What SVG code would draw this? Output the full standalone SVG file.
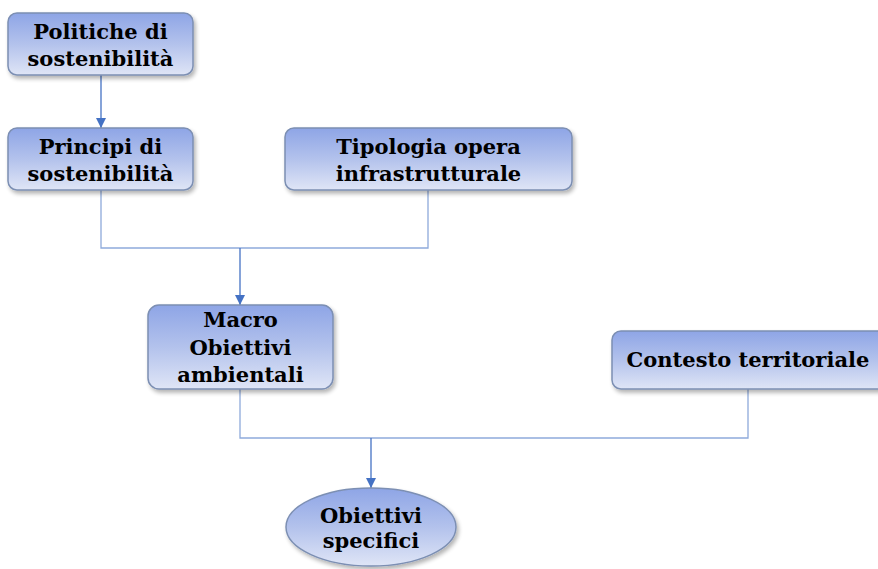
<svg xmlns="http://www.w3.org/2000/svg" width="878" height="569" viewBox="0 0 878 569">
<defs>
<linearGradient id="g" x1="0" y1="0" x2="0" y2="1">
<stop offset="0" stop-color="#8ea5e6"/>
<stop offset="0.5" stop-color="#b3c2ec"/>
<stop offset="1" stop-color="#dfe5f6"/>
</linearGradient>
<filter id="sh" x="-10%" y="-10%" width="125%" height="135%">
<feGaussianBlur in="SourceAlpha" stdDeviation="2"/>
<feOffset dx="2" dy="3"/>
<feComponentTransfer><feFuncA type="linear" slope="0.3"/></feComponentTransfer>
<feMerge><feMergeNode/><feMergeNode in="SourceGraphic"/></feMerge>
</filter>
<marker id="arr" viewBox="0 0 10 10" refX="10" refY="5" markerWidth="10" markerHeight="10" markerUnits="userSpaceOnUse" orient="auto">
<path d="M0,0 L10,5 L0,10 z" fill="#4472c4"/>
</marker>
</defs>
<style>
.box{fill:url(#g);stroke:#7c8fb3;stroke-width:1.5;filter:url(#sh)}
.t{font-family:"DejaVu Serif","Liberation Serif",serif;font-weight:bold;font-size:21px;fill:#000;text-anchor:middle}
.c{fill:none;stroke:#8eaadb;stroke-width:1.3}
.a{fill:none;stroke:#4472c4;stroke-width:1.3;marker-end:url(#arr)}
</style>
<g id="connectors">
<path class="a" d="M101,75 V128"/>
<path class="c" d="M101,190 V248 H428 V190"/>
<path class="a" d="M240,248 V305"/>
<path class="c" d="M240,389 V438 H748 V389"/>
<path class="a" d="M371,438 V488"/>
</g>
<g id="politiche">
<rect class="box" x="8" y="13" width="185" height="62" rx="9"/>
<text class="t" x="100.5" y="39">Politiche di</text>
<text class="t" x="100.5" y="66">sostenibilità</text>
</g>
<g id="principi">
<rect class="box" x="8" y="128" width="185" height="62" rx="9"/>
<text class="t" x="100.5" y="154">Principi di</text>
<text class="t" x="100.5" y="181">sostenibilità</text>
</g>
<g id="tipologia">
<rect class="box" x="285" y="128" width="287" height="62" rx="9"/>
<text class="t" x="428.5" y="154">Tipologia opera</text>
<text class="t" x="428.5" y="181">infrastrutturale</text>
</g>
<g id="macro">
<rect class="box" x="148" y="305" width="185" height="84" rx="11"/>
<text class="t" x="240.5" y="327">Macro</text>
<text class="t" x="240.5" y="355">Obiettivi</text>
<text class="t" x="240.5" y="382">ambientali</text>
</g>
<g id="contesto">
<rect class="box" x="612" y="331" width="280" height="58" rx="9"/>
<text class="t" x="748" y="367">Contesto territoriale</text>
</g>
<g id="obiettivi">
<ellipse class="box" cx="371" cy="527" rx="85" ry="39"/>
<text class="t" x="371" y="523">Obiettivi</text>
<text class="t" x="371" y="548">specifici</text>
</g>
</svg>
